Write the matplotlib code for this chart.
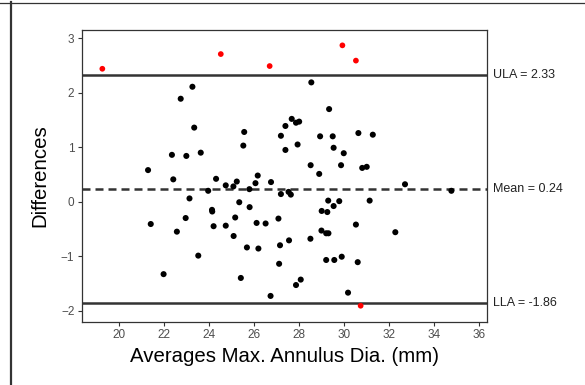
import matplotlib
matplotlib.use("Agg")
import matplotlib.pyplot as plt
from matplotlib.lines import Line2D

plt.rcParams['font.family'] = ['Liberation Sans', 'DejaVu Sans']

# Bland-Altman data: averages (x) and differences (y)
avg_in = [21.29, 22.74, 23.26, 23.34, 22.35, 22.41, 22.99, 23.63, 23.13, 24.31,
          23.96, 24.74, 25.08, 25.23, 25.52, 25.56, 25.79, 26.06, 26.16, 26.75,
          27.19, 27.39, 27.39, 27.67, 27.86, 28.00, 27.93, 27.19, 27.53, 27.63,
          28.54, 29.33, 28.93, 29.49, 30.63, 31.27, 29.53, 29.98, 28.51, 28.89,
          29.86, 30.80, 31.00, 32.70, 34.76, 29.29, 29.78, 31.13, 29.53, 29.00,
          29.25, 27.08, 30.52, 32.27, 28.99, 29.20, 29.30, 28.50, 27.55, 27.15,
          27.11, 29.20, 29.56, 29.89, 30.60, 27.86, 28.07, 30.17, 21.41, 21.98,
          22.57, 22.96, 23.52, 24.13, 24.14, 24.20, 24.74, 25.09, 25.16, 25.34,
          25.68, 25.41, 25.80, 26.11, 26.19, 26.51, 26.73]
diff_in = [0.58, 1.89, 2.11, 1.36, 0.86, 0.41, 0.84, 0.90, 0.06, 0.42,
           0.20, 0.30, 0.28, 0.37, 1.03, 1.28, 0.23, 0.34, 0.48, 0.36,
           1.21, 1.39, 0.95, 1.52, 1.45, 1.47, 1.05, 0.14, 0.18, 0.13,
           2.19, 1.70, 1.20, 1.20, 1.26, 1.23, 0.99, 0.89, 0.67, 0.51,
           0.67, 0.62, 0.64, 0.32, 0.20, 0.02, 0.01, 0.02, -0.08, -0.17,
           -0.19, -0.31, -0.42, -0.56, -0.53, -0.58, -0.58, -0.68, -0.71, -0.80,
           -1.14, -1.07, -1.07, -1.01, -1.11, -1.53, -1.43, -1.67, -0.41, -1.33,
           -0.55, -0.30, -0.99, -0.15, -0.18, -0.45, -0.44, -0.63, -0.29, -0.01,
           -0.84, -1.40, -0.10, -0.39, -0.86, -0.40, -1.73]

# Points outside limits of agreement
avg_out = [19.26, 24.52, 26.69, 29.92, 30.52, 30.73]
diff_out = [2.44, 2.71, 2.49, 2.87, 2.59, -1.91]

mean_diff = 0.24
ula = 2.33
lla = -1.86
line_labels = ["ULA = 2.33", "Mean = 0.24", "LLA = -1.86"]

x_ticks = [20, 22, 24, 26, 28, 30, 32, 34, 36]
y_ticks = [-2, -1, 0, 1, 2, 3]

fig = plt.figure(figsize=(5.85, 3.85), dpi=100)
ax = fig.add_axes([82/585, 1-321.7/385, (487-82)/585, (321.7-29.5)/385])

ax.axhline(ula, color='#333333', lw=1.8, zorder=1)
ax.axhline(lla, color='#333333', lw=1.8, zorder=1)
ax.axhline(mean_diff, color='#333333', lw=1.8, ls=(0, (3.2, 2.0)), zorder=1)

ax.scatter(avg_in, diff_in, s=19, color='black', edgecolors='none', zorder=3)
ax.scatter(avg_out, diff_out, s=17, color='#ff0000', edgecolors='none', zorder=3)

ax.set_xlim(18.357, 36.341)
ax.set_ylim(-2.203, 3.161)
ax.set_xticks(x_ticks)
ax.set_yticks(y_ticks)
ax.tick_params(axis='both', direction='out', length=3, width=0.8, color='#333333',
               labelsize=8.5, labelcolor='#4d4d4d', pad=2.5)

for sp in ax.spines.values():
    sp.set_color('#333333')
    sp.set_linewidth(0.9)

ax.set_xlabel("Averages Max. Annulus Dia. (mm)", fontsize=14.7, color='black', labelpad=4)
ax.set_ylabel("Differences", fontsize=14.7, color='black', labelpad=8)

for val, lab in zip([ula, mean_diff, lla], line_labels):
    ax.annotate(lab, xy=(1, val), xycoords=('axes fraction', 'data'),
                xytext=(4, 0), textcoords='offset points',
                ha='left', va='center', fontsize=9, color='#222222',
                annotation_clip=False)

# outer frame fragments
fig.add_artist(Line2D([11/585, 11/585], [0, 1-2/385], transform=fig.transFigure,
                      color='#333333', lw=1.6))
fig.add_artist(Line2D([0, 1], [1-2.5/385, 1-2.5/385], transform=fig.transFigure,
                      color='#333333', lw=0.9))

fig.savefig("out.png", dpi=100)
